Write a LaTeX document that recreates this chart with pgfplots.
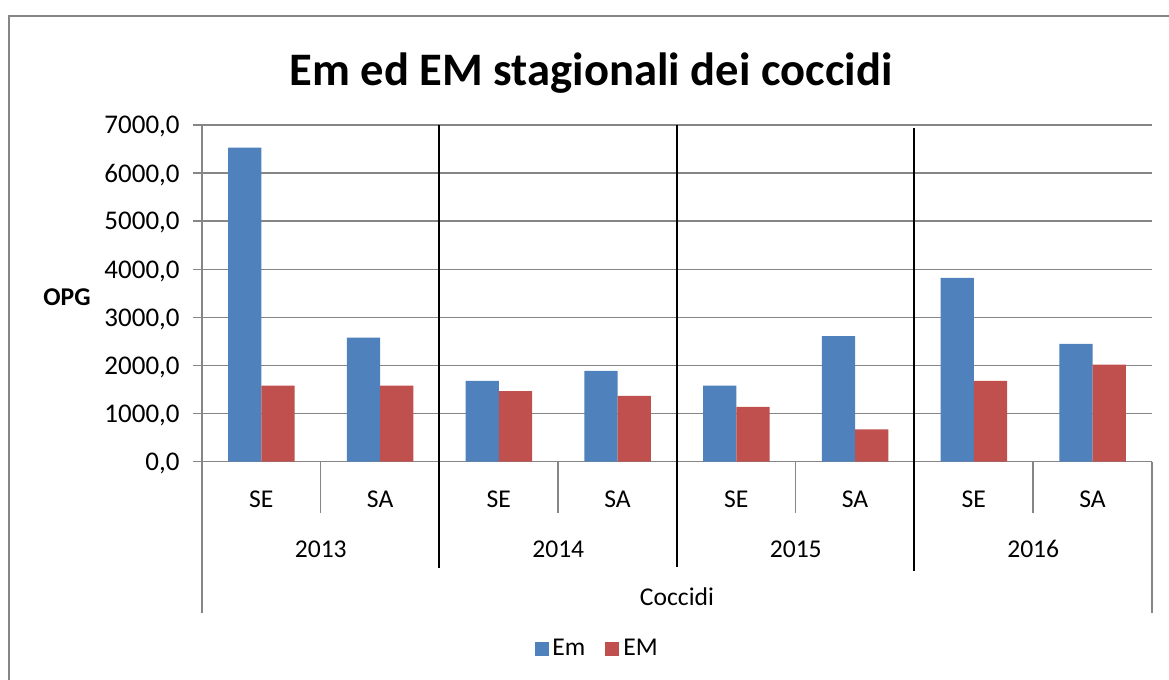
\documentclass[border=0pt]{standalone}
\usepackage{pgfplots}
\pgfplotsset{compat=1.18}
\usepackage{fontspec}
\setmainfont{Carlito}
\definecolor{emblue}{HTML}{4F81BD}
\definecolor{emred}{HTML}{C0504D}
\definecolor{gridgray}{HTML}{868686}
\newcommand\tf{\fontsize{12.8bp}{15bp}\selectfont}
\newcommand\yf{\fontsize{13.5bp}{16bp}\selectfont}
\begin{document}
\begin{tikzpicture}
\useasboundingbox (0,0) rectangle (584.5bp,-340bp);
\fill[white] (0,0) rectangle (584.5bp,-340bp);
\draw[gridgray, line width=0.75bp] (4.5bp,-340bp) -- (4.5bp,-8bp) -- (584.5bp,-8bp);
\node[anchor=base, font=\bfseries\fontsize{23.3bp}{28bp}\selectfont] at (295.5bp,-42.5bp) {Em ed EM stagionali dei coccidi};
\node[anchor=base east, font=\bfseries\tf, inner sep=0pt] at (45.5bp,-152.5bp) {OPG};
\begin{axis}[
  at={(101bp,-230.85bp)}, anchor=south west,
  scale only axis, width=475bp, height=168.35bp,
  xmin=-0.5, xmax=7.5, ymin=0, ymax=7000,
  enlargelimits=false, clip=false,
  axis lines*=left,
  axis line style={gridgray, line width=0.75bp},
  ybar=0pt, bar width=0.28,
  ytick={0,1000,...,7000},
  ymajorgrids, grid style={gridgray, line width=0.75bp},
  tick align=outside, major tick length=4.5bp,
  y tick style={gridgray, line width=0.75bp},
  x tick style={draw=none},
  xtick={0,...,7},
  xticklabels={SE,SA,SE,SA,SE,SA,SE,SA},
  x tick label style={font=\tf, anchor=base, inner sep=0pt, yshift=-18.5bp},
  y tick label style={font=\yf, anchor=east, inner sep=0pt, text depth=0pt, xshift=-6.5bp},
  scaled y ticks=false,
  yticklabel style={/pgf/number format/assume math mode=true, /pgf/number format/fixed, /pgf/number format/fixed zerofill, /pgf/number format/precision=1, /pgf/number format/use comma, /pgf/number format/1000 sep={}},
  legend style={at={(0.417,-0.556)}, anchor=center, draw=none, fill=none, font=\tf, legend columns=-1,
    /tikz/every even column/.append style={column sep=8bp}},
  legend image code/.code={\fill[#1] (0bp,-3.5bp) rectangle (7bp,3.5bp);},
]
\addplot[fill=emblue, draw=none] coordinates {(0,6530) (1,2580) (2,1680) (3,1890) (4,1580) (5,2610) (6,3820) (7,2450)};
\addplot[fill=emred, draw=none] coordinates {(0,1580) (1,1580) (2,1470) (3,1370) (4,1140) (5,670) (6,1680) (7,2020)};
\legend{Em,EM}
% category boundary ticks
\draw[gridgray, line width=0.75bp] (axis cs:0.5,0) -- (axis cs:0.5,-1067);
\draw[gridgray, line width=0.75bp] (axis cs:2.5,0) -- (axis cs:2.5,-1067);
\draw[gridgray, line width=0.75bp] (axis cs:4.5,0) -- (axis cs:4.5,-1067);
\draw[gridgray, line width=0.75bp] (axis cs:6.5,0) -- (axis cs:6.5,-1067);
\draw[gridgray, line width=0.75bp] (axis cs:-0.5,0) -- (axis cs:-0.5,-3140);
\draw[gridgray, line width=0.75bp] (axis cs:7.5,0) -- (axis cs:7.5,-3140);
% year separators
\draw[black, line width=1bp] (axis cs:1.5,7000) -- (axis cs:1.5,-2216);
\draw[black, line width=1bp] (axis cs:3.5,7000) -- (axis cs:3.5,-2183);
\draw[black, line width=1bp] (axis cs:5.5,6938) -- (axis cs:5.5,-2272);
% year labels
\node[font=\tf, anchor=base, inner sep=0pt] at (axis cs:0.5,0) [yshift=-47.7bp] {2013};
\node[font=\tf, anchor=base, inner sep=0pt] at (axis cs:2.5,0) [yshift=-47.7bp] {2014};
\node[font=\tf, anchor=base, inner sep=0pt] at (axis cs:4.5,0) [yshift=-47.7bp] {2015};
\node[font=\tf, anchor=base, inner sep=0pt] at (axis cs:6.5,0) [yshift=-47.7bp] {2016};
\node[font=\tf, anchor=base, inner sep=0pt] at (axis cs:3.5,0) [yshift=-72bp] {Coccidi};
\end{axis}
\end{tikzpicture}
\end{document}
